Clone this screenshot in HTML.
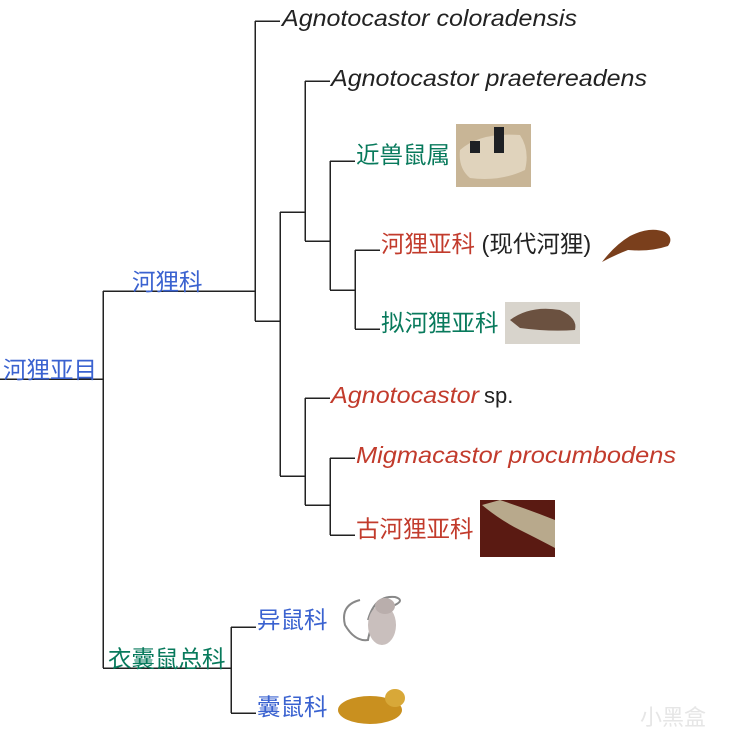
<!DOCTYPE html>
<html><head><meta charset="utf-8"><style>
html,body{margin:0;padding:0;background:#fff;}
svg{display:block;}
text{font-family:"Liberation Sans","Noto Sans CJK SC",sans-serif;}
.it{font-style:italic;font-size:23px;fill:#222;}
.cj{font-size:23.5px;}
.b{fill:#3a62d0;}.g{fill:#087a5c;}.r{fill:#c23b2c;}.k{fill:#222;}
</style></head><body>
<svg width="735" height="750" viewBox="0 0 735 750" xmlns="http://www.w3.org/2000/svg">
<g stroke="#222" stroke-width="1.5" fill="none" shape-rendering="crispEdges">
<path d="M0 379H103M103 291V668M103 291H255M255 21V321M255 21H280M255 321H280M280 212V476M280 212H305M305 81V241M305 81H330M305 241H330M330 161V290M330 161H355M330 290H355M355 250V329M355 250H380M355 329H380M280 476H305M305 398V505M305 398H330M305 505H330M330 458V535M330 458H355M330 535H355M103 668H231M231 627V713M231 627H256M231 713H256"/>
</g>
<text class="it" x="282" y="26" textLength="295" lengthAdjust="spacingAndGlyphs">Agnotocastor coloradensis</text>
<text class="it" x="331" y="86" textLength="316" lengthAdjust="spacingAndGlyphs">Agnotocastor praetereadens</text>
<text class="cj g" x="356" y="163">近兽鼠属</text>
<text class="cj" x="381" y="252"><tspan class="r">河狸亚科</tspan><tspan class="k"> (现代河狸)</tspan></text>
<text class="cj g" x="381" y="331">拟河狸亚科</text>
<text class="it r" x="331" y="403" textLength="148" lengthAdjust="spacingAndGlyphs">Agnotocastor</text>
<text class="k" x="484" y="403" style="font-size:22px">sp.</text>
<text class="it r" x="356" y="463" textLength="320" lengthAdjust="spacingAndGlyphs">Migmacastor procumbodens</text>
<text class="cj r" x="356" y="537">古河狸亚科</text>
<text class="cj b" x="132" y="290">河狸科</text>
<text class="cj b" x="3" y="378">河狸亚目</text>
<text class="cj g" x="108" y="667">衣囊鼠总科</text>
<text class="cj b" x="257" y="628">异鼠科</text>
<text class="cj b" x="257" y="715">囊鼠科</text>
<!-- images -->
<rect x="456" y="124" width="75" height="63" fill="#c8b596"/>
<path d="M460 150 Q480 132 520 135 Q530 150 525 170 Q500 182 470 178 Q458 168 460 150Z" fill="#e0d3bc"/>
<rect x="494" y="127" width="10" height="26" fill="#1e2024"/>
<rect x="470" y="141" width="10" height="12" fill="#1e2024"/>
<path d="M602 262 Q615 245 630 236 Q650 226 665 232 Q674 238 668 246 Q650 252 628 250 Q615 255 602 262Z" fill="#7a3f1c"/>
<rect x="505" y="302" width="75" height="42" fill="#d8d4cc"/>
<path d="M510 320 Q530 305 560 310 Q578 318 575 330 Q550 332 520 328Z" fill="#6b5140"/>
<rect x="480" y="500" width="75" height="57" fill="#5a1a12"/>
<path d="M482 505 Q500 520 520 530 Q540 540 555 548 L555 520 Q530 510 500 500Z" fill="#b8a98c"/>
<path d="M360 600 Q340 605 345 625 Q355 642 368 640 Q372 615 395 605 Q405 600 395 597 Q375 595 368 620" stroke="#888" stroke-width="2" fill="none"/>
<ellipse cx="382" cy="625" rx="14" ry="20" fill="#c9bfbd"/>
<ellipse cx="385" cy="606" rx="10" ry="8" fill="#b9aeac"/>
<ellipse cx="370" cy="710" rx="32" ry="14" fill="#c9901f"/>
<ellipse cx="395" cy="698" rx="10" ry="9" fill="#d8a838"/>
<text x="640" y="725" style="font-size:22px;fill:#e6e6e6">小黑盒</text>
</svg>
</body></html>
